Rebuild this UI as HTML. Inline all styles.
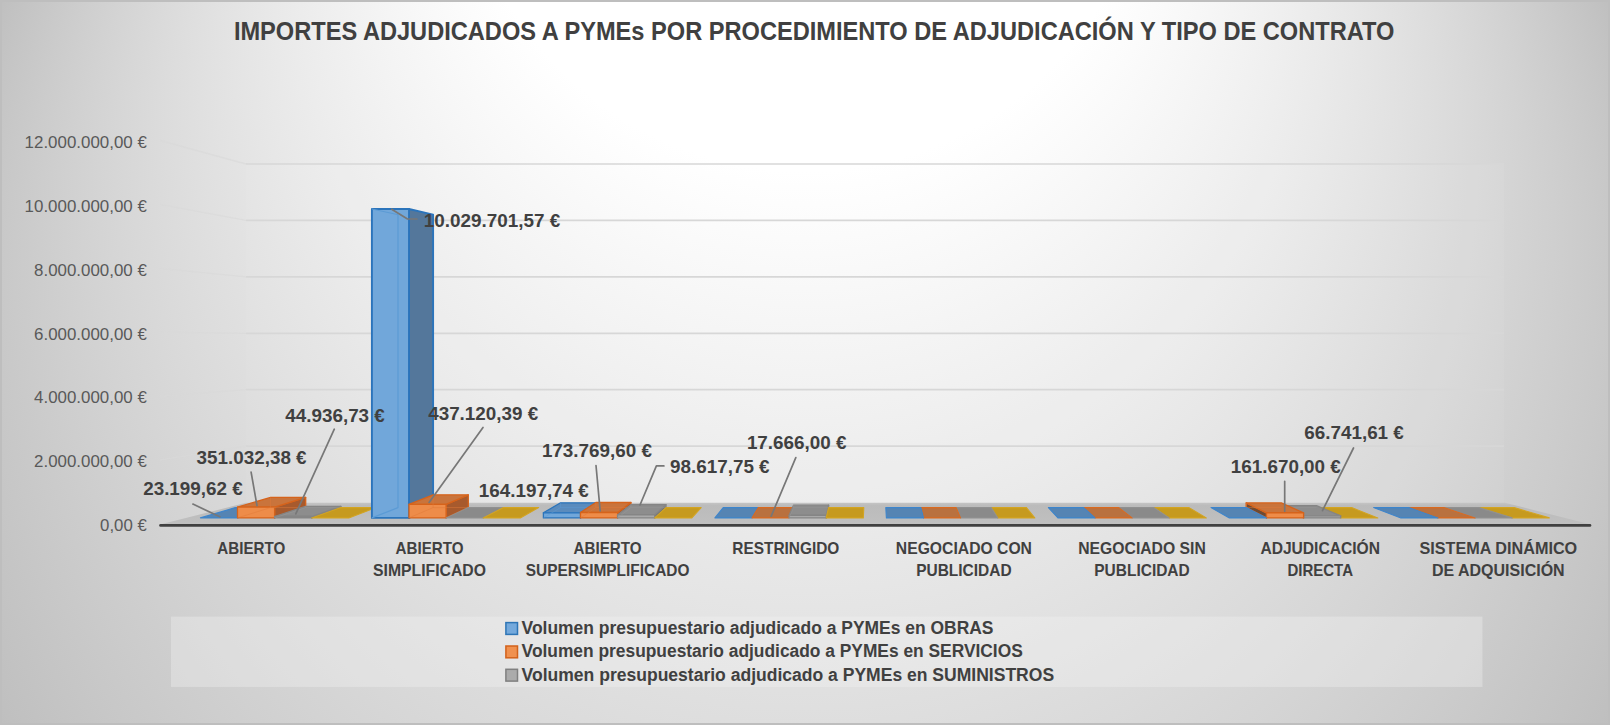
<!DOCTYPE html>
<html lang="es"><head><meta charset="utf-8"><title>Importes adjudicados a PYMEs</title>
<style>html,body{margin:0;padding:0;background:#fff}body{width:1610px;height:725px;overflow:hidden}svg{display:block}text{font-family:"Liberation Sans",Arial,sans-serif}</style></head><body>
<svg width="1610" height="725" viewBox="0 0 1610 725" role="img" aria-label="Importes adjudicados a PYMEs por procedimiento de adjudicación y tipo de contrato">
<defs>
<radialGradient id="bg" gradientUnits="userSpaceOnUse" cx="805" cy="362.5" r="882.85" fx="805" fy="-516"><stop offset="0" stop-color="#fff"/><stop offset="0.39" stop-color="#fff"/><stop offset="1" stop-color="#bfbfbf"/></radialGradient>
<linearGradient id="fl" x1="0" y1="503" x2="0" y2="525" gradientUnits="userSpaceOnUse"><stop offset="0" stop-color="#c4c4c4"/><stop offset="0.12" stop-color="#bbb"/><stop offset="1" stop-color="#c0c0c0"/></linearGradient>
</defs>
<rect width="1610" height="725" fill="url(#bg)"/>
<rect x="1" y="1" width="1608" height="723" fill="none" stroke="#bebebe" stroke-width="2"/>
<text x="233.9" y="39.8" font-size="25.6" font-weight="700" fill="#404040" textLength="1160.5" lengthAdjust="spacingAndGlyphs">IMPORTES ADJUDICADOS A PYMEs POR PROCEDIMIENTO DE ADJUDICACIÓN Y TIPO DE CONTRATO</text>
<polygon points="246,164 1504,164 1504,503 246,503" fill="#fff" fill-opacity="0.05"/>
<g fill="none" stroke="#d7d7d7" stroke-width="1.7"><path d="M246 164H1504"/><path d="M246 220.4H1504"/><path d="M246 276.9H1504"/><path d="M246 333.3H1504"/><path d="M246 389.7H1504"/><path d="M246 446.1H1504"/></g><g fill="none" stroke="#d9d9d9" stroke-width="1.3" stroke-opacity="0.6"><path d="M160 140.5L246 164"/><path d="M160 204.4L246 220.4"/><path d="M160 268.3L246 276.9"/><path d="M160 332.2L246 333.3"/><path d="M160 396.1L246 389.7"/><path d="M160 460L246 446.1"/></g>
<text x="146.8" y="148" font-size="16.6" fill="#595959" text-anchor="end" textLength="122.2" lengthAdjust="spacingAndGlyphs">12.000.000,00 €</text>
<text x="146.8" y="211.8" font-size="16.6" fill="#595959" text-anchor="end" textLength="122.2" lengthAdjust="spacingAndGlyphs">10.000.000,00 €</text>
<text x="146.8" y="275.7" font-size="16.6" fill="#595959" text-anchor="end" textLength="112.7" lengthAdjust="spacingAndGlyphs">8.000.000,00 €</text>
<text x="146.8" y="339.6" font-size="16.6" fill="#595959" text-anchor="end" textLength="112.7" lengthAdjust="spacingAndGlyphs">6.000.000,00 €</text>
<text x="146.8" y="403.4" font-size="16.6" fill="#595959" text-anchor="end" textLength="112.7" lengthAdjust="spacingAndGlyphs">4.000.000,00 €</text>
<text x="146.8" y="467.2" font-size="16.6" fill="#595959" text-anchor="end" textLength="112.7" lengthAdjust="spacingAndGlyphs">2.000.000,00 €</text>
<text x="146.8" y="531.1" font-size="16.6" fill="#595959" text-anchor="end" textLength="46.7" lengthAdjust="spacingAndGlyphs">0,00 €</text>
<polygon points="160,524.6 246,502.8 1505,502.8 1591,524.6" fill="url(#fl)"/>
<polygon points="200.4,517.9 237.5,517.9 270.6,507.6 235.4,507.6" fill="#5584b3" stroke="#3d85cc" stroke-width="1.1" stroke-linejoin="round"/>
<polygon points="1512.2,517.9 1549.3,517.9 1514.2,507.6 1479.1,507.6" fill="#c69a1f" stroke="#d3a421" stroke-width="1.1" stroke-linejoin="round"/>
<g stroke="#d6631b" stroke-width="1.3" stroke-linejoin="round"><polygon points="274.6,517.9 305.7,507.6 305.7,497.4 274.6,507.1" fill="#a75a2d"/><polygon points="237.5,507.1 274.6,507.1 305.7,497.4 270.6,497.4" fill="#c9743c"/><polygon points="237.5,507.1 274.6,507.1 274.6,517.9 237.5,517.9" fill="#ee8c49"/><path d="M237.5 517.9L270.6 507.6H305.7M270.6 507.6V497.4" fill="none" stroke="#e07b39" stroke-width="0.9" stroke-opacity="0.55"/></g>
<polygon points="1475.1,517.9 1512.2,517.9 1479.1,507.6 1443.9,507.6" fill="#8a8a8a" stroke="#909090" stroke-width="1.1" stroke-linejoin="round"/>
<g stroke="#858585" stroke-width="1.3" stroke-linejoin="round"><polygon points="311.7,517.9 340.9,507.6 340.9,506.3 311.7,516.5" fill="#6f6f6f"/><polygon points="274.6,516.5 311.7,516.5 340.9,506.3 305.7,506.3" fill="#8d8d8d"/><polygon points="274.6,516.5 311.7,516.5 311.7,517.9 274.6,517.9" fill="#a9a9a9"/><path d="M274.6 517.9L305.7 507.6H340.9M305.7 507.6V506.3" fill="none" stroke="#999" stroke-width="0.9" stroke-opacity="0.55"/></g>
<polygon points="1438,517.9 1475.1,517.9 1443.9,507.6 1408.8,507.6" fill="#b9713f" stroke="#d96a20" stroke-width="1.1" stroke-linejoin="round"/>
<polygon points="311.7,517.9 348.8,517.9 376,507.6 340.9,507.6" fill="#c69a1f" stroke="#d3a421" stroke-width="1.1" stroke-linejoin="round"/>
<polygon points="1400.9,517.9 1438,517.9 1408.8,507.6 1373.6,507.6" fill="#5584b3" stroke="#3d85cc" stroke-width="1.1" stroke-linejoin="round"/>
<g stroke="#2b74bb" stroke-width="1.9" stroke-linejoin="round"><polygon points="409,517.9 433.1,507.6 433.1,214.7 409,209" fill="#54779b"/><polygon points="371.9,209 409,209 409,517.9 371.9,517.9" fill="#71a7da"/><path d="M398 214.7V507.6L371.9 517.9" fill="none" stroke="#5b9bd5" stroke-width="1.2"/><path d="M371.9 209L398 214.7" fill="none" stroke="#5b9bd5" stroke-width="1"/></g>
<polygon points="1340.7,517.9 1377.8,517.9 1351.6,507.6 1316.5,507.6" fill="#c69a1f" stroke="#d3a421" stroke-width="1.1" stroke-linejoin="round"/>
<g stroke="#d6631b" stroke-width="1.3" stroke-linejoin="round"><polygon points="446.1,517.9 468.3,507.6 468.3,494.8 446.1,504.4" fill="#a75a2d"/><polygon points="409,504.4 446.1,504.4 468.3,494.8 433.1,494.8" fill="#c9743c"/><polygon points="409,504.4 446.1,504.4 446.1,517.9 409,517.9" fill="#ee8c49"/><path d="M409 517.9L433.1 507.6H468.3M433.1 507.6V494.8" fill="none" stroke="#e07b39" stroke-width="0.9" stroke-opacity="0.55"/></g>
<g stroke="#858585" stroke-width="1.3" stroke-linejoin="round"><polygon points="1303.6,517.9 1281.3,507.6 1281.3,505.7 1303.6,515.8" fill="#5f5f5f"/><polygon points="1303.6,515.8 1340.7,515.8 1316.5,505.7 1281.3,505.7" fill="#8d8d8d"/><polygon points="1303.6,515.8 1340.7,515.8 1340.7,517.9 1303.6,517.9" fill="#a9a9a9"/><path d="M1303.6 517.9L1281.3 507.6H1316.5M1281.3 507.6V505.7" fill="none" stroke="#999" stroke-width="0.9" stroke-opacity="0.55"/></g>
<polygon points="446.1,517.9 483.2,517.9 503.4,507.6 468.3,507.6" fill="#8a8a8a" stroke="#909090" stroke-width="1.1" stroke-linejoin="round"/>
<g stroke="#d6631b" stroke-width="1.3" stroke-linejoin="round"><polygon points="1266.5,517.9 1246.2,507.6 1246.2,502.9 1266.5,512.9" fill="#6e4a33"/><polygon points="1266.5,512.9 1303.6,512.9 1281.3,502.9 1246.2,502.9" fill="#c9743c"/><polygon points="1266.5,512.9 1303.6,512.9 1303.6,517.9 1266.5,517.9" fill="#ee8c49"/><path d="M1266.5 517.9L1246.2 507.6H1281.3M1246.2 507.6V502.9" fill="none" stroke="#e07b39" stroke-width="0.9" stroke-opacity="0.55"/></g>
<polygon points="483.2,517.9 520.3,517.9 538.6,507.6 503.4,507.6" fill="#c69a1f" stroke="#d3a421" stroke-width="1.1" stroke-linejoin="round"/>
<polygon points="1229.4,517.9 1266.5,517.9 1246.2,507.6 1211,507.6" fill="#5584b3" stroke="#3d85cc" stroke-width="1.1" stroke-linejoin="round"/>
<g stroke="#2b74bb" stroke-width="1.3" stroke-linejoin="round"><polygon points="580.5,517.9 595.8,507.6 595.8,502.8 580.5,512.8" fill="#54779b"/><polygon points="543.4,512.8 580.5,512.8 595.8,502.8 560.6,502.8" fill="#5a8bbd"/><polygon points="543.4,512.8 580.5,512.8 580.5,517.9 543.4,517.9" fill="#71a7da"/><path d="M543.4 517.9L560.6 507.6H595.8M560.6 507.6V502.8" fill="none" stroke="#5b9bd5" stroke-width="0.9" stroke-opacity="0.55"/></g>
<polygon points="1169.2,517.9 1206.3,517.9 1189,507.6 1153.9,507.6" fill="#c69a1f" stroke="#d3a421" stroke-width="1.1" stroke-linejoin="round"/>
<g stroke="#d6631b" stroke-width="1.3" stroke-linejoin="round"><polygon points="617.6,517.9 630.9,507.6 630.9,502.5 617.6,512.5" fill="#a75a2d"/><polygon points="580.5,512.5 617.6,512.5 630.9,502.5 595.8,502.5" fill="#c9743c"/><polygon points="580.5,512.5 617.6,512.5 617.6,517.9 580.5,517.9" fill="#ee8c49"/><path d="M580.5 517.9L595.8 507.6H630.9M595.8 507.6V502.5" fill="none" stroke="#e07b39" stroke-width="0.9" stroke-opacity="0.55"/></g>
<polygon points="1132.1,517.9 1169.2,517.9 1153.9,507.6 1118.7,507.6" fill="#8a8a8a" stroke="#909090" stroke-width="1.1" stroke-linejoin="round"/>
<g stroke="#858585" stroke-width="1.3" stroke-linejoin="round"><polygon points="654.7,517.9 666,507.6 666,504.7 654.7,514.9" fill="#6f6f6f"/><polygon points="617.6,514.9 654.7,514.9 666,504.7 630.9,504.7" fill="#8d8d8d"/><polygon points="617.6,514.9 654.7,514.9 654.7,517.9 617.6,517.9" fill="#a9a9a9"/><path d="M617.6 517.9L630.9 507.6H666M630.9 507.6V504.7" fill="none" stroke="#999" stroke-width="0.9" stroke-opacity="0.55"/></g>
<polygon points="1095,517.9 1132.1,517.9 1118.7,507.6 1083.6,507.6" fill="#b9713f" stroke="#d96a20" stroke-width="1.1" stroke-linejoin="round"/>
<polygon points="654.7,517.9 691.8,517.9 701.2,507.6 666,507.6" fill="#c69a1f" stroke="#d3a421" stroke-width="1.1" stroke-linejoin="round"/>
<polygon points="1057.9,517.9 1095,517.9 1083.6,507.6 1048.4,507.6" fill="#5584b3" stroke="#3d85cc" stroke-width="1.1" stroke-linejoin="round"/>
<polygon points="714.9,517.9 752,517.9 758.3,507.6 723.2,507.6" fill="#5584b3" stroke="#3d85cc" stroke-width="1.1" stroke-linejoin="round"/>
<polygon points="997.7,517.9 1034.8,517.9 1026.4,507.6 991.2,507.6" fill="#c69a1f" stroke="#d3a421" stroke-width="1.1" stroke-linejoin="round"/>
<polygon points="752,517.9 789.1,517.9 793.5,507.6 758.3,507.6" fill="#b9713f" stroke="#d96a20" stroke-width="1.1" stroke-linejoin="round"/>
<polygon points="960.6,517.9 997.7,517.9 991.2,507.6 956.1,507.6" fill="#8a8a8a" stroke="#909090" stroke-width="1.1" stroke-linejoin="round"/>
<g stroke="#858585" stroke-width="1.3" stroke-linejoin="round"><polygon points="826.2,517.9 828.6,507.6 828.6,505.2 826.2,515.4" fill="#6f6f6f"/><polygon points="789.1,515.4 826.2,515.4 828.6,505.2 793.5,505.2" fill="#8d8d8d"/><polygon points="789.1,515.4 826.2,515.4 826.2,517.9 789.1,517.9" fill="#a9a9a9"/><path d="M789.1 517.9L793.5 507.6H828.6M793.5 507.6V505.2" fill="none" stroke="#999" stroke-width="0.9" stroke-opacity="0.55"/></g>
<polygon points="923.5,517.9 960.6,517.9 956.1,507.6 920.9,507.6" fill="#b9713f" stroke="#d96a20" stroke-width="1.1" stroke-linejoin="round"/>
<polygon points="826.2,517.9 863.3,517.9 863.8,507.6 828.6,507.6" fill="#c69a1f" stroke="#d3a421" stroke-width="1.1" stroke-linejoin="round"/>
<polygon points="886.4,517.9 923.5,517.9 920.9,507.6 885.8,507.6" fill="#5584b3" stroke="#3d85cc" stroke-width="1.1" stroke-linejoin="round"/>
<path d="M160.5 525.4H1590" stroke="#404040" stroke-width="2.6" stroke-linecap="round" fill="none"/>
<text x="251.3" y="553.6" font-size="16.6" font-weight="700" fill="#404040" text-anchor="middle" textLength="68" lengthAdjust="spacingAndGlyphs">ABIERTO</text>
<text x="429.5" y="553.6" font-size="16.6" font-weight="700" fill="#404040" text-anchor="middle" textLength="68" lengthAdjust="spacingAndGlyphs">ABIERTO</text>
<text x="429.5" y="576" font-size="16.6" font-weight="700" fill="#404040" text-anchor="middle" textLength="112.9" lengthAdjust="spacingAndGlyphs">SIMPLIFICADO</text>
<text x="607.6" y="553.6" font-size="16.6" font-weight="700" fill="#404040" text-anchor="middle" textLength="68" lengthAdjust="spacingAndGlyphs">ABIERTO</text>
<text x="607.6" y="576" font-size="16.6" font-weight="700" fill="#404040" text-anchor="middle" textLength="163.6" lengthAdjust="spacingAndGlyphs">SUPERSIMPLIFICADO</text>
<text x="785.8" y="553.6" font-size="16.6" font-weight="700" fill="#404040" text-anchor="middle" textLength="107.1" lengthAdjust="spacingAndGlyphs">RESTRINGIDO</text>
<text x="963.9" y="553.6" font-size="16.6" font-weight="700" fill="#404040" text-anchor="middle" textLength="136.1" lengthAdjust="spacingAndGlyphs">NEGOCIADO CON</text>
<text x="963.9" y="576" font-size="16.6" font-weight="700" fill="#404040" text-anchor="middle" textLength="95.4" lengthAdjust="spacingAndGlyphs">PUBLICIDAD</text>
<text x="1142" y="553.6" font-size="16.6" font-weight="700" fill="#404040" text-anchor="middle" textLength="127.5" lengthAdjust="spacingAndGlyphs">NEGOCIADO SIN</text>
<text x="1142" y="576" font-size="16.6" font-weight="700" fill="#404040" text-anchor="middle" textLength="95.4" lengthAdjust="spacingAndGlyphs">PUBLICIDAD</text>
<text x="1320.2" y="553.6" font-size="16.6" font-weight="700" fill="#404040" text-anchor="middle" textLength="119.6" lengthAdjust="spacingAndGlyphs">ADJUDICACIÓN</text>
<text x="1320.2" y="576" font-size="16.6" font-weight="700" fill="#404040" text-anchor="middle" textLength="65.6" lengthAdjust="spacingAndGlyphs">DIRECTA</text>
<text x="1498.3" y="553.6" font-size="16.6" font-weight="700" fill="#404040" text-anchor="middle" textLength="157.8" lengthAdjust="spacingAndGlyphs">SISTEMA DINÁMICO</text>
<text x="1498.3" y="576" font-size="16.6" font-weight="700" fill="#404040" text-anchor="middle" textLength="132.7" lengthAdjust="spacingAndGlyphs">DE ADQUISICIÓN</text>
<g fill="none" stroke="#777" stroke-width="1.7" stroke-linecap="round" stroke-linejoin="round"><path d="M391.7 209.2L407.5 219H417"/><path d="M192.9 504.1L219.8 516.8"/><path d="M251.1 472.1L257 505.6"/><path d="M334.3 429.2L295.8 513.8"/><path d="M483 427.5L429.1 502.4"/><path d="M596 465.5L600.2 511"/><path d="M663.9 465.9H656.4L640 505"/><path d="M795.8 457.6L771.2 516.2"/><path d="M1284.7 481.4V511.2"/><path d="M1353.5 448L1322.5 510.6"/></g>
<text x="423.7" y="226.5" font-size="18.4" font-weight="700" fill="#404040" textLength="136.5" lengthAdjust="spacingAndGlyphs">10.029.701,57 €</text>
<text x="285.3" y="421.7" font-size="18.4" font-weight="700" fill="#404040" textLength="99.5" lengthAdjust="spacingAndGlyphs">44.936,73 €</text>
<text x="428.2" y="420" font-size="18.4" font-weight="700" fill="#404040" textLength="110" lengthAdjust="spacingAndGlyphs">437.120,39 €</text>
<text x="196.6" y="463.8" font-size="18.4" font-weight="700" fill="#404040" textLength="110" lengthAdjust="spacingAndGlyphs">351.032,38 €</text>
<text x="143.2" y="495.2" font-size="18.4" font-weight="700" fill="#404040" textLength="99.5" lengthAdjust="spacingAndGlyphs">23.199,62 €</text>
<text x="478.8" y="497.3" font-size="18.4" font-weight="700" fill="#404040" textLength="110" lengthAdjust="spacingAndGlyphs">164.197,74 €</text>
<text x="541.9" y="456.6" font-size="18.4" font-weight="700" fill="#404040" textLength="110" lengthAdjust="spacingAndGlyphs">173.769,60 €</text>
<text x="670.1" y="473.3" font-size="18.4" font-weight="700" fill="#404040" textLength="99.5" lengthAdjust="spacingAndGlyphs">98.617,75 €</text>
<text x="746.9" y="448.8" font-size="18.4" font-weight="700" fill="#404040" textLength="99.5" lengthAdjust="spacingAndGlyphs">17.666,00 €</text>
<text x="1230.8" y="473" font-size="18.4" font-weight="700" fill="#404040" textLength="110" lengthAdjust="spacingAndGlyphs">161.670,00 €</text>
<text x="1304.3" y="439" font-size="18.4" font-weight="700" fill="#404040" textLength="99.5" lengthAdjust="spacingAndGlyphs">66.741,61 €</text>
<rect x="171" y="616.6" width="1311.5" height="70.3" fill="#f2f2f2" fill-opacity="0.37"/>
<rect x="505.9" y="622.6" width="11.6" height="11.8" fill="#74a9dc" stroke="#2e75b6" stroke-width="1.5"/>
<text x="521.6" y="633.9" font-size="18.8" font-weight="700" fill="#404040" textLength="471.9" lengthAdjust="spacingAndGlyphs">Volumen presupuestario adjudicado a PYMEs en OBRAS</text>
<rect x="505.9" y="646" width="11.6" height="11.8" fill="#f0914f" stroke="#d2621b" stroke-width="1.5"/>
<text x="521.6" y="657.2" font-size="18.8" font-weight="700" fill="#404040" textLength="501.2" lengthAdjust="spacingAndGlyphs">Volumen presupuestario adjudicado a PYMEs en SERVICIOS</text>
<rect x="505.9" y="669.3" width="11.6" height="11.8" fill="#ababab" stroke="#808080" stroke-width="1.5"/>
<text x="521.6" y="680.5" font-size="18.8" font-weight="700" fill="#404040" textLength="532.5" lengthAdjust="spacingAndGlyphs">Volumen presupuestario adjudicado a PYMEs en SUMINISTROS</text>
</svg></body></html>
